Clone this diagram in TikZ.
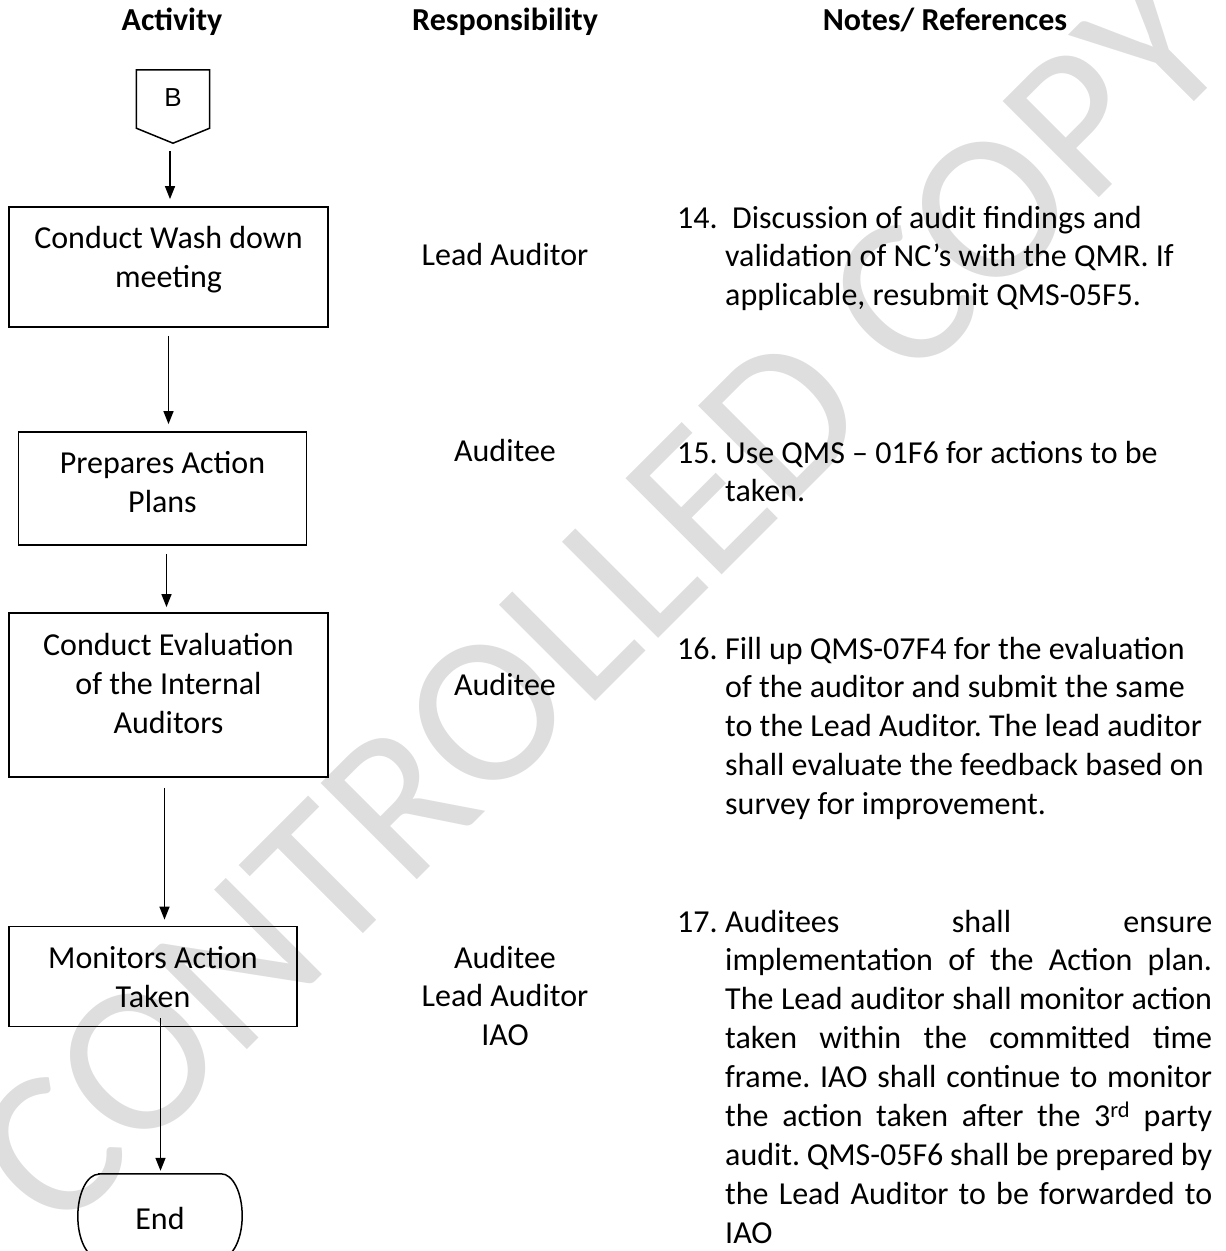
\documentclass[tikz,border=0pt]{standalone}
\usepackage{fontspec}
\setmainfont{Carlito}
\newfontfamily\arialfont{Liberation Sans}
\usetikzlibrary{arrows.meta}
\definecolor{wmgray}{HTML}{DEDEDE}
\begin{document}
\begin{tikzpicture}[x=1pt,y=-1pt,
  boxline/.style={draw=black, line width=1.8pt},
  flowbox/.style={boxline, inner sep=0pt},
  ghost/.style={draw=none, inner sep=0pt},
  txt/.style={font=\fontsize{32}{38.9}\selectfont\frenchspacing, align=center, anchor=base, inner sep=0pt},
  hdr/.style={font=\fontsize{32}{38.9}\selectfont\bfseries, anchor=base, inner sep=0pt},
  num/.style={font=\fontsize{32}{38.9}\selectfont, anchor=base west, inner sep=0pt},
  note/.style={font=\fontsize{32}{38.9}\selectfont\frenchspacing, align=left, anchor=base west, inner sep=0pt},
  arr/.style={line width=1.5pt, -{Triangle[length=13pt,width=10pt]}, shorten <=8pt, shorten >=7pt},
  wm/.style={text=wmgray, font=\fontsize{212}{216}\selectfont, rotate=45, inner sep=0pt}
]
\useasboundingbox (0,0) rectangle (1226,1251);

% watermark
\node[wm] (wmark) at (600,600) {CONTROLLED COPY};

% headers
\node[hdr] (h1) at (172,30) {Activity};
\node[hdr] (h2) at (505,30) {Responsibility};
\node[hdr] (h3) at (945,30) {Notes/ References};

% off-page connector B
\node[ghost, minimum width=73pt, minimum height=73pt] (b) at (173,106.5) {};
\draw[boxline, line width=1.5pt] (b.north west) -- (b.north east) -- ([yshift=15pt]b.south east)
  -- (b.south) -- ([yshift=15pt]b.south west) -- cycle;
\node[font=\arialfont\fontsize{26}{30}\selectfont, anchor=base, inner sep=0pt] (btxt) at (173,106) {B};

% process boxes
\node[flowbox, minimum width=319pt, minimum height=120pt] (w1) at (168.5,267) {};
\node[txt] (w1t) at (168.5,287.5) {Conduct Wash down\\meeting};

\node[flowbox, minimum width=288pt, minimum height=113pt] (w2) at (162.5,488.5) {};
\node[txt] (w2t) at (162.5,512.4) {Prepares Action\\Plans};

\node[flowbox, minimum width=319pt, minimum height=164pt] (w3) at (168.5,695) {};
\node[txt] (w3t) at (168.5,733) {Conduct Evaluation\\of the Internal\\Auditors};

\node[flowbox, minimum width=288pt, minimum height=100pt] (w4) at (153,976.5) {};
\node[txt] (w4t) at (153,1007.2) {Monitors Action\\Taken};

% terminator End
\node[ghost, minimum width=164pt, minimum height=84pt] (end) at (160,1216) {};
\draw[boxline, line width=1.5pt] ([xshift=21pt]end.north west) -- ([xshift=-21pt]end.north east)
  arc[start angle=90, end angle=-90, x radius=21pt, y radius=42pt]
  -- ([xshift=21pt]end.south west)
  arc[start angle=270, end angle=90, x radius=21pt, y radius=42pt] -- cycle;
\node[txt] (endt) at (160,1229) {End};

% connectors
\draw[arr] (b.south -| 170,0) -- (w1.north -| 170,0);
\draw[arr] (w1.south -| 168.5,0) -- (w2.north -| 168.5,0);
\draw[arr, shorten >=5pt] (w2.south -| 166.5,0) -- (w3.north -| 166.5,0);
\draw[arr, shorten <=10pt, shorten >=6pt] (w3.south -| 164.5,0) -- (w4.north -| 164.5,0);
\draw[arr, shorten <=-9pt, shorten >=3pt] (w4.south -| 160.5,0) -- (end.north -| 160.5,0);

% responsibility
\node[txt] (r1) at (505,265) {Lead Auditor};
\node[txt] (r2) at (505,461) {Auditee};
\node[txt] (r3) at (505,695) {Auditee};
\node[txt] (r4) at (505,1045.8) {Auditee\\Lead Auditor\\IAO};

% notes
\node[num] (n14) at (677,228) {14.};
\node[note] (t14) at (725,305.8) {\hspace*{7pt}Discussion of audit findings and\\validation of NC’s with the QMR. If\\applicable, resubmit QMS-05F5.};

\node[num] (n15) at (677,463) {15.};
\node[note] (t15) at (725,501.9) {Use QMS – 01F6 for actions to be\\taken.};

\node[num] (n16) at (677,659) {16.};
\node[note] (t16) at (725,814.6) {Fill up QMS-07F4 for the evaluation\\of the auditor and submit the same\\to the Lead Auditor. The lead auditor\\shall evaluate the feedback based on\\survey for improvement.};

\node[num] (n17) at (677,932) {17.};
\node[note] (t17) at (725,1243.2) {\makebox[487pt][s]{Auditees shall ensure}\\
\makebox[487pt][s]{implementation of the Action plan.}\\
\makebox[487pt][s]{The Lead auditor shall monitor action}\\
\makebox[487pt][s]{taken within the committed time}\\
\makebox[487pt][s]{frame. IAO shall continue to monitor}\\
\makebox[487pt][s]{the action taken after the 3\textsuperscript{rd} party}\\
\makebox[487pt][s]{audit. QMS-05F6 shall be prepared by}\\
\makebox[487pt][s]{the Lead Auditor to be forwarded to}\\
IAO};
\end{tikzpicture}
\end{document}
